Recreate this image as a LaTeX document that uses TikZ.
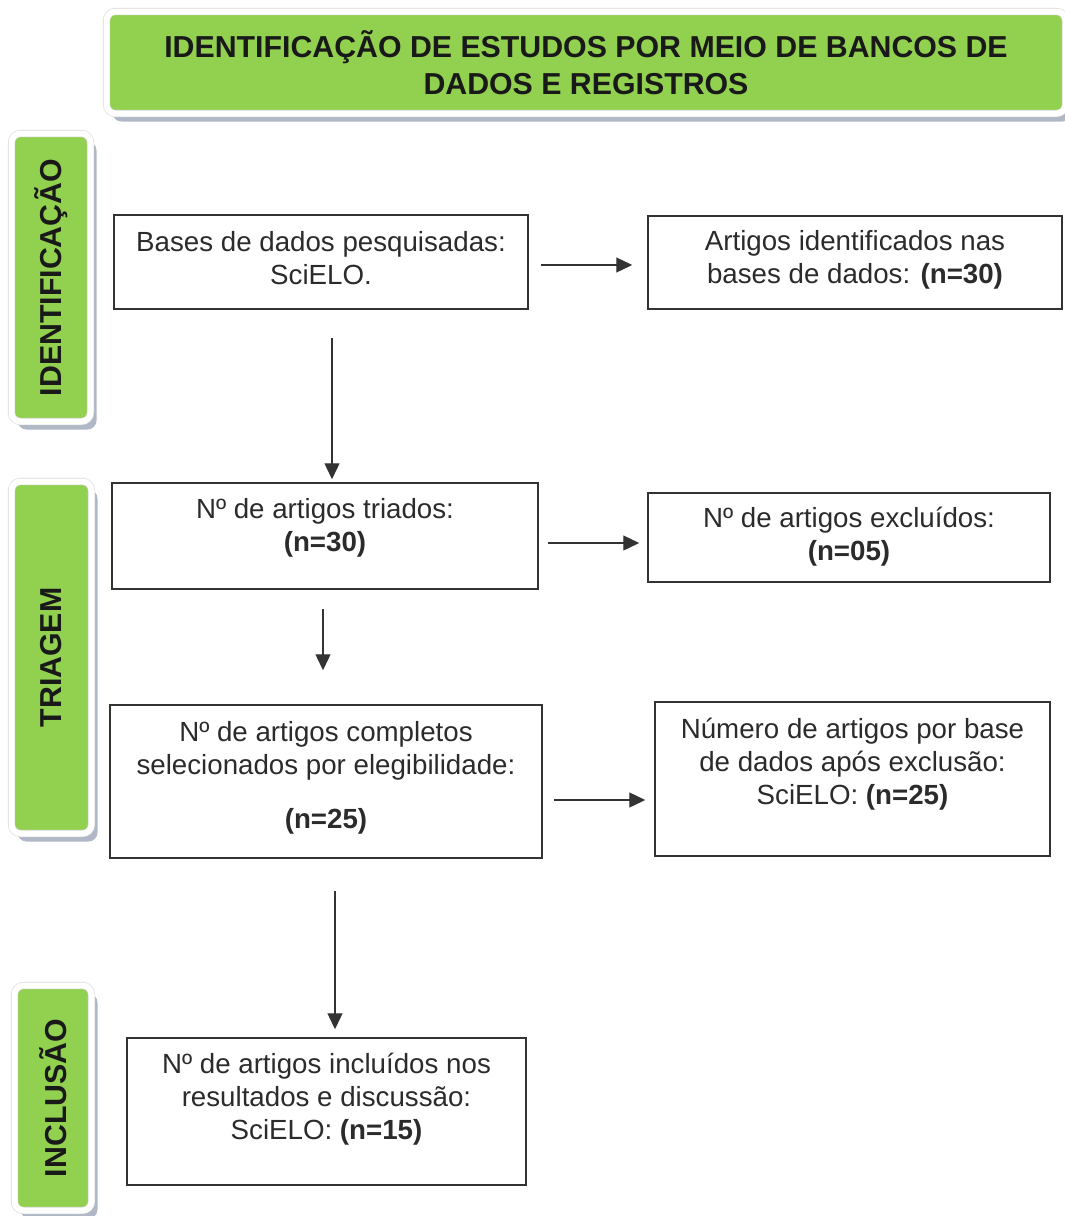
\documentclass[tikz,border=0pt]{standalone}
\usepackage{fontspec}
\usepackage{graphicx}
\setmainfont{Liberation Sans}
\usetikzlibrary{calc,shadows,arrows.meta}
\definecolor{grn}{HTML}{92D050}
\definecolor{txtc}{HTML}{2B2B2B}
\definecolor{boxline}{HTML}{333333}
\definecolor{shd}{HTML}{8E98AE}
\begin{document}
\begin{tikzpicture}[x=1pt,y=-1pt,
  greenbox/.style={rectangle, rounded corners=9pt, fill=grn, draw=gray!30, double=white,
    double distance=6pt, line width=0.6pt,
    drop shadow={shadow xshift=6pt, shadow yshift=-8pt, fill=shd, opacity=0.7},
    text=black!90, font=\fontsize{30.3}{37}\selectfont\bfseries, align=center, inner sep=0pt},
  flowbox/.style={rectangle, draw=boxline, line width=1.5pt, inner sep=0pt},
  flowtext/.style={text=txtc, font=\fontsize{27.7}{33}\selectfont, align=center, inner sep=0pt},
  arr/.style={draw=black!80, line width=1.3pt, -{Triangle[length=16pt,width=15pt]}}
]
\useasboundingbox (0,0) rectangle (1065,1216);

% header and phase labels
\node[greenbox, minimum width=959pt, minimum height=102pt] (hdr) at (586,62.5)
  {IDENTIFICAÇÃO DE ESTUDOS POR MEIO DE BANCOS DE\\DADOS E REGISTROS};
\node[greenbox, minimum width=79pt, minimum height=288pt] (s1) at (51,277.5)
  {\rotatebox{90}{IDENTIFICAÇÃO}};
\node[greenbox, minimum width=80pt, minimum height=352pt] (s2) at (51.5,657.5)
  {\rotatebox{90}{TRIAGEM}};
\node[greenbox, minimum width=77pt, minimum height=225pt] (s3) at (53,1098)
  {\rotatebox{90}{INCLUSÃO}};

% flow boxes
\node[flowbox, minimum width=414pt, minimum height=94pt] (b1) at (321,262) {};
\node[flowbox, minimum width=414pt, minimum height=93pt] (b2) at (855,262.5) {};
\node[flowbox, minimum width=426pt, minimum height=106pt] (b3) at (325,536) {};
\node[flowbox, minimum width=402pt, minimum height=89pt] (b4) at (849,537.5) {};
\node[flowbox, minimum width=432pt, minimum height=153pt] (b5) at (326,781.5) {};
\node[flowbox, minimum width=395pt, minimum height=154pt] (b6) at (852.5,779) {};
\node[flowbox, minimum width=399pt, minimum height=147pt] (b7) at (326.5,1111.5) {};

% texts
\node[flowtext] (t1) at (321,258.5) {Bases de dados pesquisadas:\\SciELO.};
\node[flowtext] (t2) at (855,260) {Artigos identificados nas\\bases de dados: \textbf{(n=30)}};
\node[flowtext] (t3) at (325,528) {Nº de artigos triados:\\\textbf{(n=30)}};
\node[flowtext] (t4) at (849,537) {Nº de artigos excluídos:\\\textbf{(n=05)}};
\node[flowtext] (t5) at (326,778) {Nº de artigos completos\\selecionados por elegibilidade:\\[21pt]\textbf{(n=25)}};
\node[flowtext] (t6) at (852.5,764) {Número de artigos por base\\de dados após exclusão:\\SciELO: \textbf{(n=25)}};
\node[flowtext] (t7) at (326.5,1099.5) {Nº de artigos incluídos nos\\resultados e discussão:\\SciELO: \textbf{(n=15)}};

% connectors
\draw[arr] ($(b1.east)+(12,3)$) -- ($(b1.east -| b2.west)+(-15,3)$);
\draw[arr] ($(b1.south)+(11,28)$) -- ($(b1.south |- b3.north)+(11,-3)$);
\draw[arr] ($(b3.east)+(9,7)$) -- ($(b3.east -| b4.west)+(-8,7)$);
\draw[arr] ($(b3.south)+(-2,19)$) -- ($(b3.south |- b5.north)+(-2,-34)$);
\draw[arr] ($(b5.east)+(11,18.5)$) -- ($(b5.east -| b6.west)+(-9,18.5)$);
\draw[arr] ($(b5.south)+(9,32)$) -- ($(b5.south |- b7.north)+(9,-8)$);
\end{tikzpicture}
\end{document}
